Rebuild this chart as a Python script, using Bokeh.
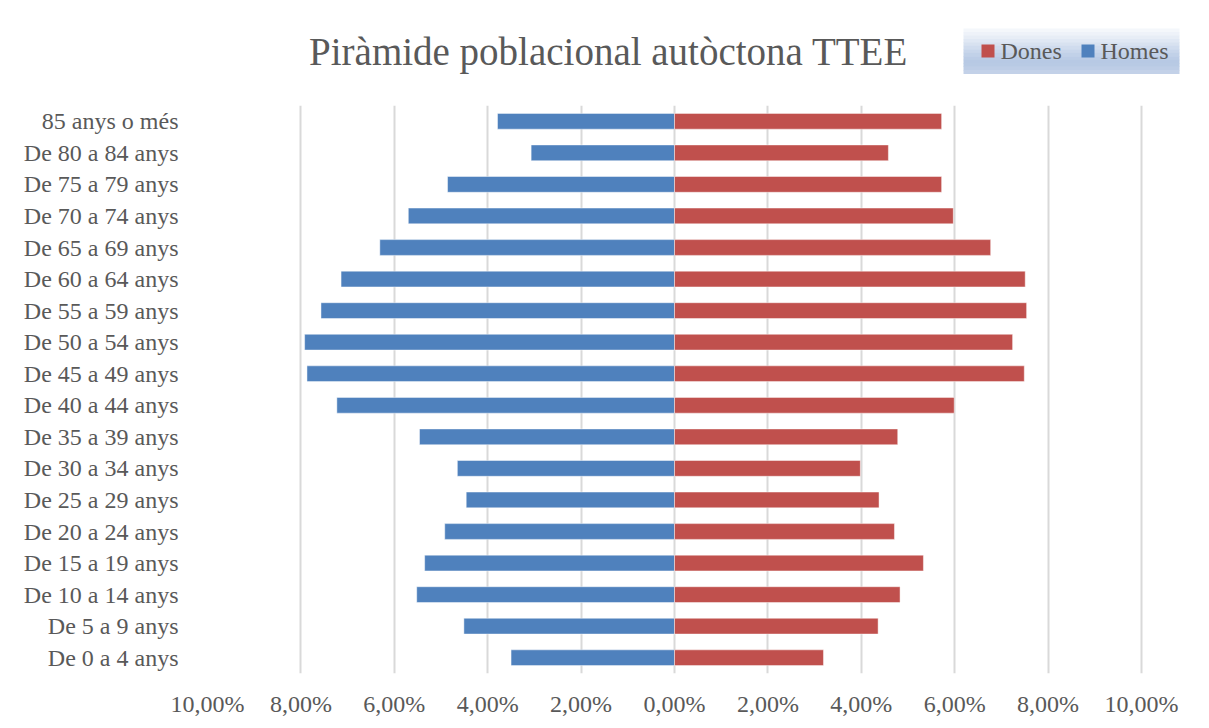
from bokeh.plotting import figure
from bokeh.layouts import column
from bokeh.models import (FactorRange, FixedTicker, CustomJSTickFormatter, Label,
                          BoxAnnotation, Range1d)
from bokeh.embed import file_html
from bokeh.resources import INLINE

categories = ["De 0 a 4 anys", "De 5 a 9 anys", "De 10 a 14 anys", "De 15 a 19 anys",
              "De 20 a 24 anys", "De 25 a 29 anys", "De 30 a 34 anys", "De 35 a 39 anys",
              "De 40 a 44 anys", "De 45 a 49 anys", "De 50 a 54 anys", "De 55 a 59 anys",
              "De 60 a 64 anys", "De 65 a 69 anys", "De 70 a 74 anys", "De 75 a 79 anys",
              "De 80 a 84 anys", "85 anys o més"]
homes = [3.50, 4.51, 5.52, 5.35, 4.92, 4.46, 4.65, 5.46, 7.23, 7.87, 7.92, 7.57,
         7.14, 6.31, 5.70, 4.86, 3.07, 3.79]
dones = [3.19, 4.36, 4.83, 5.33, 4.71, 4.38, 3.98, 4.78, 5.99, 7.49, 7.24, 7.54,
         7.51, 6.77, 5.97, 5.72, 4.58, 5.72]
x_ticks = [-10, -8, -6, -4, -2, 0, 2, 4, 6, 8, 10]
series_names = ["Dones", "Homes"]
title_text = "Piràmide poblacional autòctona TTEE"

FONT = "Liberation Serif"
TXT = "#595959"
RED = "#C0504D"
BLUE = "#4F81BD"
W = 1201
TOP_H = 90
FL, FR = 207, 1193          # shared frame left/right (page px)
AXIS_PX = 934               # width of the -10..10 span
x_end = 10 + (FR - FL - AXIS_PX) / (AXIS_PX / 20.0)

# ---- header figure: title + legend (coordinates = page pixels, y up from header bottom) ----
top = figure(width=W, height=TOP_H, x_range=Range1d(FL, FR), y_range=Range1d(0, TOP_H),
             frame_width=FR - FL, frame_height=TOP_H,
             min_border_left=FL, min_border_right=W - FR, min_border_top=0, min_border_bottom=0,
             output_backend="svg", toolbar_location=None)
top.axis.visible = False
top.grid.visible = False
top.outline_line_color = None

top.add_layout(Label(x=608, y=TOP_H - 51, text=title_text,
                     text_align="center", text_baseline="middle",
                     text_font=FONT, text_font_size="39px", text_color=TXT))

# legend box with vertical gradient
grad = ["#f4f7fb", "#eef2f9", "#e7edf6", "#e0e8f4", "#d8e2f0", "#d0dcee", "#c8d6eb",
        "#c1d1e8", "#bbcce6", "#b7c9e4", "#b8cae4", "#bdcde6", "#c3d1e8"]
lx0, lx1 = 963, 1179
ly_top, ly_bot = TOP_H - 28, TOP_H - 73
n = len(grad)
h = (ly_top - ly_bot) / n
for i, c in enumerate(grad):
    top.add_layout(BoxAnnotation(left=lx0, right=lx1, top=ly_top - i * h,
                                 bottom=ly_top - (i + 1) * h - 0.5,
                                 fill_color=c, fill_alpha=1, line_color=None))

# legend keys and labels
key_x = [981, 1081]
key_colors = [RED, BLUE]
for kx, kc, name in zip(key_x, key_colors, series_names):
    top.add_layout(BoxAnnotation(left=kx, right=kx + 13, top=TOP_H - 44, bottom=TOP_H - 57,
                                 fill_color=kc, fill_alpha=1, line_color=None))
    top.add_layout(Label(x=kx + 19, y=TOP_H - 50.5, text=name,
                         text_align="left", text_baseline="middle",
                         text_font=FONT, text_font_size="24px", text_color=TXT))

# ---- main figure ----
p = figure(y_range=FactorRange(*categories), x_range=Range1d(-10, x_end),
           frame_width=FR - FL, frame_height=568,
           min_border_left=FL, min_border_right=W - FR, min_border_top=105 - TOP_H,
           min_border_bottom=47,
           output_backend="svg", toolbar_location=None)
p.outline_line_color = None

neg_homes = [-v for v in homes]
p.hbar(y=categories, left=0, right=neg_homes, height=0.5, fill_color=BLUE,
       line_color="white", line_alpha=0.45, line_width=1)
p.hbar(y=categories, left=0, right=dones, height=0.5, fill_color=RED,
       line_color="white", line_alpha=0.45, line_width=1)

p.xaxis.ticker = FixedTicker(ticks=x_ticks)
p.xaxis.formatter = CustomJSTickFormatter(
    code="return Math.abs(tick).toFixed(2).replace('.', ',') + '%';")
for ax in (p.xaxis, p.yaxis):
    ax.axis_line_color = None
    ax.major_tick_line_color = None
    ax.minor_tick_line_color = None
    ax.major_label_text_font = FONT
    ax.major_label_text_font_size = "24px"
    ax.major_label_text_color = TXT
p.xaxis.major_label_standoff = 11
p.yaxis.major_label_standoff = 23

p.xgrid.grid_line_color = "#d9d9d9"
p.xgrid.grid_line_width = 2
p.ygrid.grid_line_color = None

layout = column(top, p, spacing=0)
open("out.html", "w").write(file_html(layout, INLINE))
